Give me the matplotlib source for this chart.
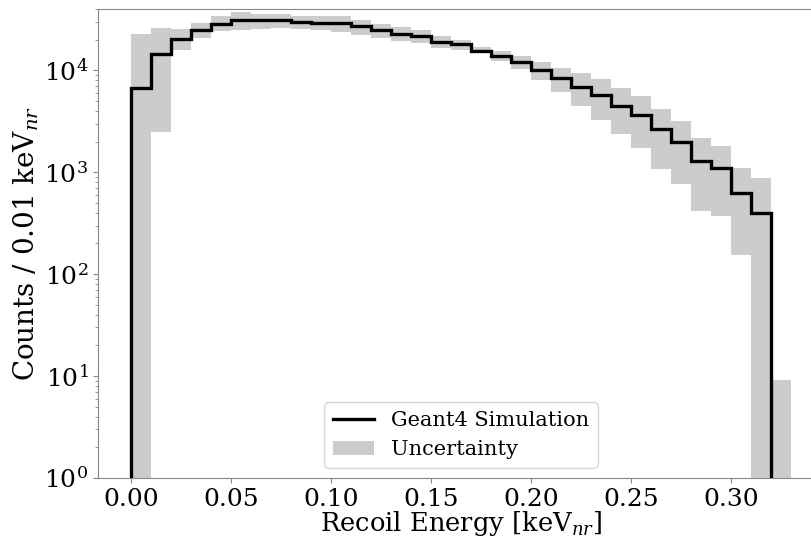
import numpy as np
import matplotlib
matplotlib.use('Agg')
import matplotlib.pyplot as plt

# bin edges (keV_nr), 0.01 wide
sim_edges = np.round(np.arange(0, 0.321, 0.01), 3)
unc_edges = np.round(np.arange(0, 0.331, 0.01), 3)

# Geant4 simulation counts per bin
sim_counts = [6710, 14580, 20460, 25060, 28250, 30900, 30900, 31120, 30080, 29410,
              28950, 27120, 24660, 22900, 21780, 19010, 17990, 15460, 13770, 12050,
              10000, 8350, 6860, 5690, 4490, 3650, 2630, 1983, 1297, 1094,
              627, 399]

# uncertainty band per bin (lower, upper)
unc_low = [0, 2483, 15960, 20930, 24270, 24660, 25410, 25820, 25410, 25060,
           23730, 22390, 20590, 19540, 18530, 16620, 15960, 14680, 12330, 10400,
           8110, 6120, 4510, 3235, 2350, 1746, 1070, 775, 418, 376,
           153, 0, 0]
unc_high = [22540, 26240, 25410, 29100, 33820, 37300, 35960, 35960, 34360, 33820,
            34060, 31400, 28700, 26400, 24660, 21690, 20000, 16920, 15350, 13710,
            12050, 10620, 9410, 8290, 6710, 5560, 4150, 3162, 2170, 1800,
            1107, 887, 9.1]

plt.rcParams['font.family'] = 'DejaVu Serif'
plt.rcParams['mathtext.fontset'] = 'dejavuserif'

fig = plt.figure(figsize=(8.12, 5.37), dpi=100)
ax = fig.add_axes([0.1207, 0.1099, 0.894, 0.8734])

lo = np.array(unc_low, dtype=float)
hi = np.array(unc_high, dtype=float)
ax.bar(unc_edges[:-1], hi - lo, bottom=lo, width=0.01, align='edge',
       color='gray', alpha=0.4, linewidth=0, label='Uncertainty', zorder=1)
ax.stairs(sim_counts, sim_edges, baseline=0, color='black', linewidth=2.4,
          label='Geant4 Simulation', zorder=3)

ax.set_yscale('log')
ax.set_ylim(1, 4e4)
ax.set_xlim(-0.0165, 0.3465)
ax.set_xticks([0.0, 0.05, 0.10, 0.15, 0.20, 0.25, 0.30])
ax.set_xticklabels(['0.00', '0.05', '0.10', '0.15', '0.20', '0.25', '0.30'])

for s in ax.spines.values():
    s.set_color('#888888')
ax.tick_params(axis='both', which='both', colors='#888888', labelcolor='black',
               labelsize=18)

ax.set_xlabel('Recoil Energy [keV$_{nr}$]', fontsize=18.5, labelpad=-1.5)
ax.set_ylabel('Counts / 0.01 keV$_{nr}$', fontsize=20, labelpad=2)

ax.legend(loc='lower center', fontsize=15)

fig.savefig('out.png', dpi=100)
